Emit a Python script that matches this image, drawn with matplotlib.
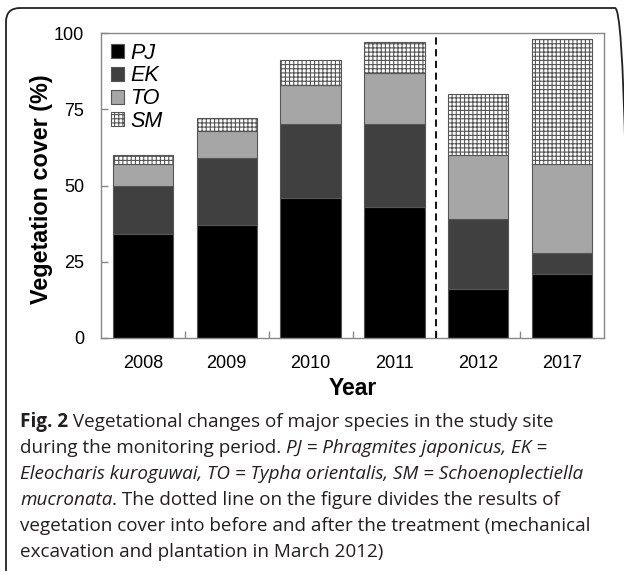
import matplotlib
matplotlib.use('Agg')
import matplotlib.pyplot as plt
from matplotlib.patches import FancyBboxPatch, Patch

# Данные
years = ['2008', '2009', '2010', '2011', '2012', '2017']
species = ['PJ', 'EK', 'TO', 'SM']
pj = [34, 37, 46, 43, 16, 21]
ek = [16, 22, 24, 27, 23, 7]
to = [7, 9, 13, 17, 21, 29]
sm = [3, 4, 8, 10, 20, 41]

colors = ['#000000', '#404040', '#a6a6a6', '#ffffff']
hatches = [None, None, None, '++++']

caption_lines = [
    [('Fig. 2', 'bold'), (' Vegetational changes of major species in the study site', 'normal')],
    [('during the monitoring period. ', 'normal'), ('PJ = Phragmites japonicus, EK =', 'italic')],
    [('Eleocharis kuroguwai, TO = Typha orientalis, SM = Schoenoplectiella', 'italic')],
    [('mucronata', 'italic'), ('. The dotted line on the figure divides the results of', 'normal')],
    [('vegetation cover into before and after the treatment (mechanical', 'normal')],
    [('excavation and plantation in March 2012)', 'normal')],
]

plt.rcParams['font.family'] = ['Liberation Sans', 'DejaVu Sans']
plt.rcParams['hatch.linewidth'] = 0.8

W, H = 624, 571
fig = plt.figure(figsize=(W / 100, H / 100), dpi=100)
ax = fig.add_axes([101 / W, 1 - 338 / H, 503 / W, 305 / H])

# Столбцы с накоплением
x = range(len(years))
bottom = [0] * len(years)
for name, vals, col, hat in zip(species, [pj, ek, to, sm], colors, hatches):
    ax.bar(x, vals, width=0.72, bottom=bottom, color=col, edgecolor='#555555',
           linewidth=0.8, hatch=hat, label=name, zorder=2)
    bottom = [b + v for b, v in zip(bottom, vals)]

# Пунктир: до и после обработки
ax.axvline(3.5, color='black', linestyle=(0, (4, 2.5)), linewidth=1.3, zorder=3)

# Оси
ax.set_xlim(-0.5, len(years) - 0.5)
ax.set_ylim(0, 100)
ax.set_yticks([0, 25, 50, 75, 100])
ax.set_xticks(list(x))
ax.set_xticklabels(years)
ax.set_xticks([i + 0.5 for i in range(len(years) - 1)], minor=True)
ax.tick_params(axis='x', which='major', length=0, pad=12, labelsize=13)
ax.tick_params(axis='x', which='minor', direction='in', length=5, color='#888888', width=1)
ax.tick_params(axis='y', direction='in', length=5, color='#888888', width=1, pad=12, labelsize=13)
for sp in ax.spines.values():
    sp.set_color('#888888')
    sp.set_linewidth(1)

ax.set_ylabel('Vegetation cover (%)', fontsize=16.8, fontweight='bold')
ax.set_xlabel('Year', fontsize=16.5, fontweight='bold')
ax.yaxis.set_label_coords(-0.095, 0.487)
ax.xaxis.set_label_coords(0.5, -0.128)

# Легенда с квадратными маркерами
handles = [Patch(facecolor=c, edgecolor='#555555', linewidth=0.8, hatch=h)
           for c, h in zip(colors, hatches)]
leg = ax.legend(handles, species, loc='upper left', frameon=False,
                prop={'style': 'italic', 'size': 15.5}, handlelength=0.62,
                handleheight=0.62, handletextpad=0.3, labelspacing=0.08,
                borderaxespad=0.15, borderpad=0.3)

# Рамка вокруг рисунка (правый край уходит за границу)
frame = FancyBboxPatch((0.06, -0.5), 6.23, 5.71 - 0.08 + 0.5,
                       boxstyle='round,pad=0,rounding_size=0.14',
                       transform=fig.dpi_scale_trans, fill=False,
                       edgecolor='#222222', linewidth=1.3)
fig.patches.append(frame)

# Подпись с разными начертаниями
renderer = fig.canvas.get_renderer()
cap_font = ['Open Sans', 'DejaVu Sans']
cap_size = 13.6


def style_kw(style):
    return dict(family=cap_font, size=cap_size,
                weight='bold' if style == 'bold' else 'normal',
                style='italic' if style == 'italic' else 'normal')


def advance(s, style):
    # ширина с учётом пробелов: (s + '|') - '|'
    t1 = fig.text(0, 0, s + '|', **style_kw(style))
    t2 = fig.text(0, 0, '|', **style_kw(style))
    w = t1.get_window_extent(renderer).width - t2.get_window_extent(renderer).width
    t1.remove()
    t2.remove()
    return w


y0 = 422
for line in caption_lines:
    xpos = 20.0
    for s, style in line:
        fig.text(xpos / W, 1 - y0 / H, s, color='#231f20', va='center', **style_kw(style))
        xpos += advance(s, style)
    y0 += 26

plt.savefig('out.png', dpi=100)
